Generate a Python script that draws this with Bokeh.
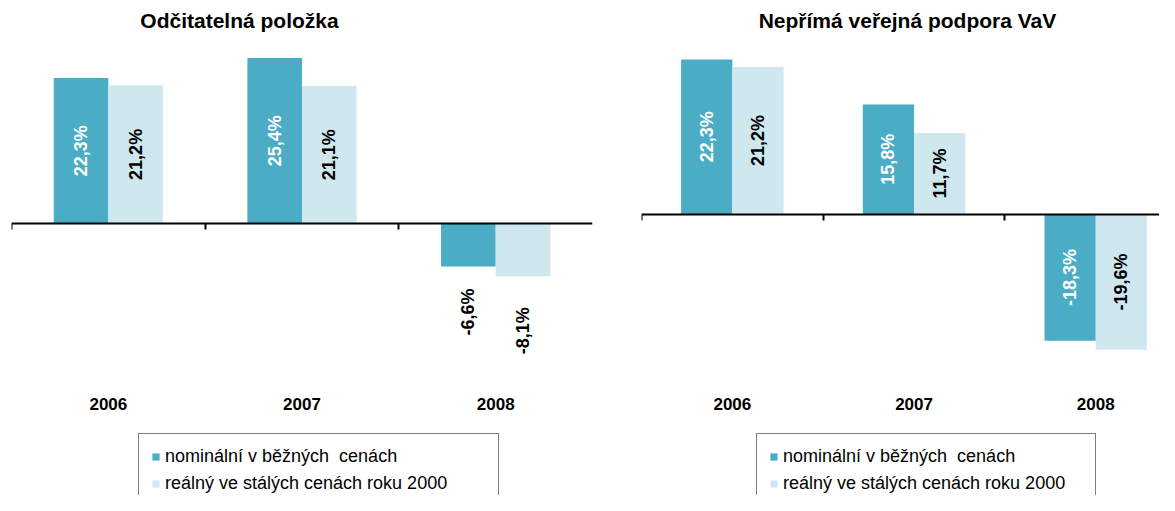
import math
from bokeh.plotting import figure
from bokeh.layouts import row
from bokeh.models import (Range1d, LinearAxis, FixedTicker, CustomJSTickFormatter,
                          Label, Legend, LegendItem, ColumnDataSource)
from bokeh.embed import file_html
from bokeh.resources import INLINE
from bokeh.core.properties import value

# ---------------- data ----------------
years = ["2006", "2007", "2008"]
series_names = ["nominální v běžných  cenách", "reálný ve stálých cenách roku 2000"]
panel_titles = ["Odčitatelná položka", "Nepřímá veřejná podpora VaV"]
odcitatelna_nominal = [22.3, 25.4, -6.6]
odcitatelna_real = [21.2, 21.1, -8.1]
neprima_nominal = [22.3, 15.8, -18.3]
neprima_real = [21.2, 11.7, -19.6]

# ---------------- style ----------------
FONT = "Liberation Sans"
COLORS = ["#4BACC6", "#CFE8F0"]
INSIDE_TEXT = ["white", "black"]
OUT_GAP_PX = [22, 31]
H = 495
BAR_W = 0.282
DODGE = 0.141
TITLE_BASE = 20
CAT_LABEL_TOP = 397
LEG_PAD, LEG_SPACING, LEG_LABEL_H = 12, 6, 20
LEG_TOP = 437


def fmt(v):
    return f"{v:.1f}".replace(".", ",") + "%"


def make_panel(title, nominal, real, fig_x0, fig_w, frame_l, frame_r, cat_px,
               zero_px, ppp, title_cx, leg_left, leg_right):
    x_end = (frame_r - frame_l) / cat_px
    y_top = zero_px / ppp
    y_bot = -(H - zero_px) / ppp
    p = figure(width=fig_w, height=H, x_range=Range1d(0, x_end),
               y_range=Range1d(y_bot, y_top), x_axis_location=None,
               y_axis_location=None, toolbar_location=None,
               output_backend="svg", min_border_left=frame_l - fig_x0,
               min_border_right=fig_x0 + fig_w - frame_r, min_border_top=0,
               min_border_bottom=0)
    p.outline_line_color = None
    p.grid.visible = False
    p.background_fill_color = "white"
    p.border_fill_color = "white"

    renderers = []
    for s, vals in enumerate([nominal, real]):
        xs = [i + 0.5 + (s - 0.5) * 2 * DODGE for i in range(len(years))]
        src = ColumnDataSource(dict(x=xs, top=vals))
        r = p.vbar(x="x", top="top", bottom=0, width=BAR_W, source=src,
                   fill_color=COLORS[s], line_color=None)
        renderers.append(r)
        in_x, in_y, in_t = [], [], []
        out_x, out_y, out_t = [], [], []
        for x, v in zip(xs, vals):
            if abs(v) * ppp >= 60:
                in_x.append(x); in_y.append(v / 2); in_t.append(fmt(v))
            else:
                out_x.append(x); out_y.append(v - OUT_GAP_PX[s] / ppp); out_t.append(fmt(v))
        if in_x:
            p.text(x=in_x, y=in_y, text=in_t, angle=math.pi / 2,
                   text_align="center", text_baseline="middle",
                   text_color=INSIDE_TEXT[s], text_font=value(FONT),
                   text_font_style="bold", text_font_size="18px")
        if out_x:
            p.text(x=out_x, y=out_y, text=out_t, angle=math.pi / 2,
                   text_align="right", text_baseline="middle",
                   text_color="black", text_font=value(FONT),
                   text_font_style="bold", text_font_size="18px")

    # zero line with tick marks at the category boundaries
    zax = LinearAxis(fixed_location=0,
                     ticker=FixedTicker(ticks=list(range(len(years) + 1))),
                     formatter=CustomJSTickFormatter(code="return '';"),
                     major_tick_in=0, major_tick_out=6,
                     minor_tick_line_color=None, axis_line_width=2,
                     major_tick_line_width=2, axis_line_color="black",
                     major_tick_line_color="black")
    p.add_layout(zax, "below")

    # category labels
    lab_y = (zero_px - CAT_LABEL_TOP) / ppp
    cax = LinearAxis(fixed_location=lab_y,
                     ticker=FixedTicker(ticks=[i + 0.5 for i in range(len(years))]),
                     formatter=CustomJSTickFormatter(args=dict(labels=years),
                                                     code="return labels[Math.floor(tick)];"),
                     axis_line_color=None, major_tick_line_color=None,
                     minor_tick_line_color=None, major_label_standoff=0,
                     major_tick_out=0, major_tick_in=0,
                     major_label_text_font=FONT, major_label_text_font_style="bold",
                     major_label_text_font_size="17px",
                     major_label_text_color="black")
    p.add_layout(cax, "below")

    # panel title
    p.add_layout(Label(x=title_cx - frame_l, y=H - TITLE_BASE,
                       x_units="screen", y_units="screen", text=title,
                       text_align="center", text_baseline="alphabetic",
                       text_font=FONT, text_font_style="bold",
                       text_font_size="21px", text_color="black"))

    # legend
    leg_h = 2 * LEG_PAD + 2 * LEG_LABEL_H + LEG_SPACING
    label_start = leg_left + LEG_PAD + 9 + 5
    leg = Legend(items=[LegendItem(label=series_names[i], renderers=[renderers[i]])
                        for i in range(2)],
                 location=(leg_left - frame_l, H - (LEG_TOP + leg_h)),
                 orientation="vertical", padding=LEG_PAD, spacing=LEG_SPACING,
                 margin=0, label_height=LEG_LABEL_H, glyph_width=9, glyph_height=9,
                 label_standoff=5, label_width=leg_right - LEG_PAD - label_start,
                 border_line_color="black", border_line_width=1,
                 background_fill_color="white", background_fill_alpha=1.0,
                 label_text_font=FONT, label_text_font_size="18px",
                 label_text_color="black")
    p.add_layout(leg, "center")
    return p


p1 = make_panel(panel_titles[0], odcitatelna_nominal, odcitatelna_real,
                fig_x0=0, fig_w=608, frame_l=11, frame_r=592, cat_px=193.67,
                zero_px=223, ppp=6.52, title_cx=239, leg_left=138, leg_right=497)
p2 = make_panel(panel_titles[1], neprima_nominal, neprima_real,
                fig_x0=608, fig_w=551, frame_l=641, frame_r=1159, cat_px=181.7,
                zero_px=213.5, ppp=6.93, title_cx=907, leg_left=756, leg_right=1094)

layout = row(p1, p2)
open("out.html", "w").write(file_html(layout, INLINE))
